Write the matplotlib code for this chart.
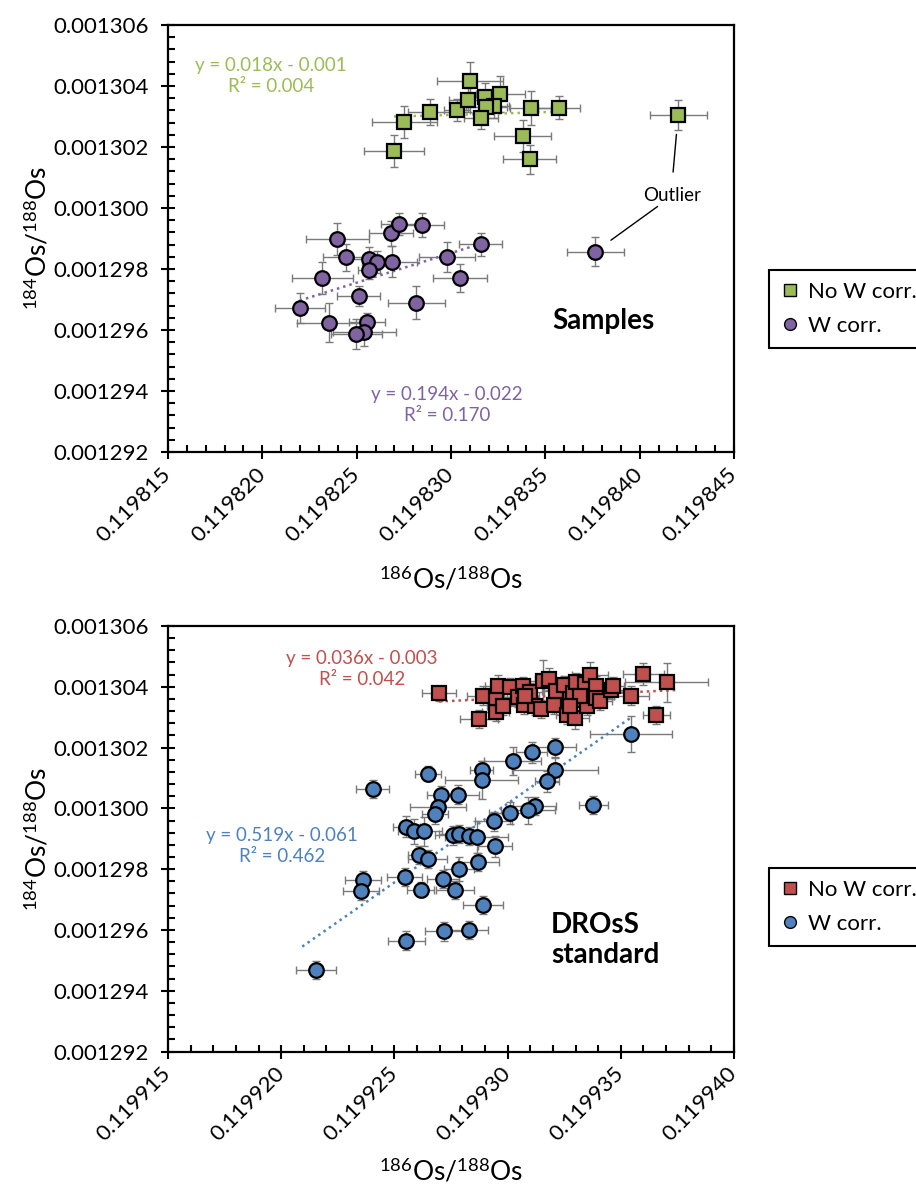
import matplotlib
matplotlib.use("Agg")
import matplotlib.pyplot as plt
from matplotlib.lines import Line2D
from matplotlib.ticker import MultipleLocator, FormatStrFormatter
import numpy as np

plt.rcParams.update(
    {
        "font.family": ["Lato", "DejaVu Sans"],
        "mathtext.fontset": "custom",
        "mathtext.rm": "Lato",
        "mathtext.it": "Lato:italic",
        "mathtext.bf": "Lato:bold",
        "axes.linewidth": 1.5,
    }
)

# ---- Samples: No W correction (last point is the outlier) ----
samp_nw_x = [0.11982698, 0.11982753, 0.11982887, 0.11983032, 0.11983100, 0.11983090,
             0.11983181, 0.11983261, 0.11983226, 0.11983187, 0.11983160, 0.11983422,
             0.11983573, 0.11983379, 0.11983418, 0.11984204]
samp_nw_y = [0.00130187, 0.00130282, 0.00130315, 0.00130321, 0.00130416, 0.00130354,
             0.00130363, 0.00130374, 0.00130334, 0.00130330, 0.00130294, 0.00130327,
             0.00130329, 0.00130236, 0.00130160, 0.00130305]
samp_nw_xerr = [1.61e-6, 1.71e-6, 1.16e-6, 0.70e-6, 1.75e-6, 1.00e-6, 1.00e-6, 1.30e-6,
                0.80e-6, 1.10e-6, 0.90e-6, 1.10e-6, 1.13e-6, 1.51e-6, 1.40e-6, 1.51e-6]
samp_nw_yerr = [0.51e-6, 0.52e-6, 0.44e-6, 0.35e-6, 0.63e-6, 0.40e-6, 0.46e-6, 0.59e-6,
                0.40e-6, 0.35e-6, 0.36e-6, 0.55e-6, 0.38e-6, 0.52e-6, 0.48e-6, 0.49e-6]

# ---- Samples: W corrected (last point is the outlier) ----
samp_w_x = [0.11982198, 0.11982318, 0.11982398, 0.11982444, 0.11982353, 0.11982512,
            0.11982568, 0.11982607, 0.11982566, 0.11982553, 0.11982541, 0.11982499,
            0.11982681, 0.11982722, 0.11982848, 0.11982685, 0.11982817, 0.11982980,
            0.11983048, 0.11983158, 0.11983764]
samp_w_y = [0.00129673, 0.00129770, 0.00129898, 0.00129838, 0.00129624, 0.00129712,
            0.00129832, 0.00129824, 0.00129797, 0.00129625, 0.00129594, 0.00129587,
            0.00129917, 0.00129948, 0.00129944, 0.00129824, 0.00129690, 0.00129840,
            0.00129770, 0.00129881, 0.00129857]
samp_w_xerr = [1.32e-6, 1.63e-6, 1.67e-6, 1.24e-6, 1.71e-6, 1.14e-6, 1.00e-6, 0.80e-6,
               0.60e-6, 0.95e-6, 1.65e-6, 1.36e-6, 1.18e-6, 0.93e-6, 1.13e-6, 1.34e-6,
               1.53e-6, 1.49e-6, 1.42e-6, 1.13e-6, 1.51e-6]
samp_w_yerr = [0.49e-6, 0.52e-6, 0.53e-6, 0.44e-6, 0.63e-6, 0.33e-6, 0.40e-6, 0.36e-6,
               0.30e-6, 0.32e-6, 0.47e-6, 0.50e-6, 0.40e-6, 0.35e-6, 0.38e-6, 0.51e-6,
               0.55e-6, 0.49e-6, 0.47e-6, 0.38e-6, 0.47e-6]

# ---- DROsS standard: No W correction ----
std_nw_x = [0.11992697, 0.11992875, 0.11992891, 0.11992947, 0.11992947, 0.11992959,
            0.11992980, 0.11993012, 0.11993045, 0.11993069, 0.11993072, 0.11993101,
            0.11993120, 0.11993146, 0.11993158, 0.11993182, 0.11993203, 0.11993214,
            0.11993250, 0.11993263, 0.11993287, 0.11993299, 0.11993300, 0.11993336,
            0.11993344, 0.11993363, 0.11993352, 0.11993392, 0.11993392, 0.11993409,
            0.11993457, 0.11993546, 0.11993599, 0.11993656, 0.11993703, 0.11993320,
            0.11993274, 0.11993077, 0.11993465]
std_nw_y = [0.00130378, 0.00130294, 0.00130371, 0.00130316, 0.00130363, 0.00130404,
            0.00130336, 0.00130398, 0.00130365, 0.00130402, 0.00130341, 0.00130382,
            0.00130336, 0.00130327, 0.00130420, 0.00130426, 0.00130339, 0.00130385,
            0.00130405, 0.00130308, 0.00130378, 0.00130297, 0.00130415, 0.00130358,
            0.00130410, 0.00130440, 0.00130336, 0.00130404, 0.00130362, 0.00130352,
            0.00130391, 0.00130371, 0.00130442, 0.00130306, 0.00130415, 0.00130369,
            0.00130338, 0.00130369, 0.00130402]
std_nw_xerr = [0.73e-6, 0.84e-6, 0.70e-6, 0.60e-6, 0.50e-6, 0.60e-6, 0.70e-6, 0.50e-6,
               0.60e-6, 0.50e-6, 0.70e-6, 0.60e-6, 0.80e-6, 0.50e-6, 0.90e-6, 0.60e-6,
               0.70e-6, 0.60e-6, 0.90e-6, 0.50e-6, 0.80e-6, 0.60e-6, 1.00e-6, 0.60e-6,
               0.70e-6, 0.80e-6, 0.50e-6, 0.60e-6, 0.70e-6, 0.50e-6, 0.60e-6, 0.78e-6,
               0.90e-6, 0.60e-6, 1.83e-6, 0.70e-6, 0.50e-6, 0.60e-6, 0.50e-6]
std_nw_yerr = [0.25e-6, 0.30e-6, 0.30e-6, 0.30e-6, 0.30e-6, 0.35e-6, 0.30e-6, 0.30e-6,
               0.30e-6, 0.30e-6, 0.30e-6, 0.30e-6, 0.30e-6, 0.30e-6, 0.69e-6, 0.35e-6,
               0.30e-6, 0.30e-6, 0.30e-6, 0.30e-6, 0.30e-6, 0.35e-6, 0.30e-6, 0.30e-6,
               0.30e-6, 0.40e-6, 0.30e-6, 0.30e-6, 0.30e-6, 0.30e-6, 0.30e-6, 0.30e-6,
               0.35e-6, 0.30e-6, 0.64e-6, 0.30e-6, 0.30e-6, 0.30e-6, 0.30e-6]

# ---- DROsS standard: W corrected ----
std_w_x = [0.11993546, 0.11993209, 0.11993106, 0.11993023, 0.11993209, 0.11992886,
           0.11992886, 0.11992648, 0.11993174, 0.11992405, 0.11992705, 0.11992782,
           0.11993379, 0.11993120, 0.11993090, 0.11993010, 0.11992938, 0.11992693,
           0.11992680, 0.11992553, 0.11992588, 0.11992629, 0.11992758, 0.11992786,
           0.11992829, 0.11992863, 0.11992944, 0.11992608, 0.11992648, 0.11992871,
           0.11992786, 0.11992545, 0.11992716, 0.11992362, 0.11992352, 0.11992617,
           0.11992766, 0.11992892, 0.11992721, 0.11992831, 0.11992553, 0.11992155]
std_w_y = [0.00130245, 0.00130201, 0.00130184, 0.00130155, 0.00130127, 0.00130127,
           0.00130094, 0.00130114, 0.00130089, 0.00130064, 0.00130043, 0.00130045,
           0.00130010, 0.00130009, 0.00129993, 0.00129985, 0.00129957, 0.00130004,
           0.00129980, 0.00129940, 0.00129924, 0.00129924, 0.00129911, 0.00129916,
           0.00129910, 0.00129905, 0.00129875, 0.00129847, 0.00129833, 0.00129823,
           0.00129800, 0.00129774, 0.00129767, 0.00129765, 0.00129728, 0.00129732,
           0.00129732, 0.00129683, 0.00129595, 0.00129600, 0.00129565, 0.00129468]
std_w_xerr = [1.81e-6, 0.91e-6, 0.70e-6, 1.26e-6, 1.91e-6, 0.50e-6, 1.62e-6, 0.57e-6,
              0.53e-6, 0.73e-6, 0.60e-6, 0.92e-6, 0.65e-6, 0.94e-6, 1.20e-6, 0.90e-6,
              0.80e-6, 1.25e-6, 0.57e-6, 0.60e-6, 0.70e-6, 0.80e-6, 0.80e-6, 0.90e-6,
              0.60e-6, 1.40e-6, 0.76e-6, 0.50e-6, 0.86e-6, 0.92e-6, 0.65e-6, 0.79e-6,
              0.70e-6, 0.81e-6, 0.78e-6, 0.60e-6, 0.84e-6, 0.87e-6, 0.84e-6, 0.81e-6,
              0.83e-6, 0.89e-6]
std_w_yerr = [0.60e-6, 0.31e-6, 0.35e-6, 0.46e-6, 0.40e-6, 0.30e-6, 0.63e-6, 0.25e-6,
              0.35e-6, 0.30e-6, 0.30e-6, 0.31e-6, 0.30e-6, 0.30e-6, 0.44e-6, 0.35e-6,
              0.30e-6, 0.30e-6, 0.30e-6, 0.35e-6, 0.40e-6, 0.49e-6, 0.30e-6, 0.30e-6,
              0.30e-6, 0.53e-6, 0.35e-6, 0.30e-6, 0.30e-6, 0.30e-6, 0.40e-6, 0.30e-6,
              0.30e-6, 0.30e-6, 0.30e-6, 0.25e-6, 0.30e-6, 0.30e-6, 0.30e-6, 0.30e-6,
              0.30e-6, 0.30e-6]

# linear trend lines: slope, R^2 and x extent of each fit
fit_slopes = {"samp_nw": 0.018, "samp_w": 0.194, "std_nw": 0.036, "std_w": 0.519}
fit_labels = {
    "samp_nw": "y = 0.018x - 0.001\nR² = 0.004",
    "samp_w": "y = 0.194x - 0.022\nR² = 0.170",
    "std_nw": "y = 0.036x - 0.003\nR² = 0.042",
    "std_w": "y = 0.519x - 0.061\nR² = 0.462",
}
fit_xrange = {
    "samp_nw": (0.11982698, 0.11983573),
    "samp_w": (0.11982198, 0.11983158),
    "std_nw": (0.11992697, 0.11993748),
    "std_w": (0.11992093, 0.11993546),
}

GREEN = "#9BBB59"
PURPLE = "#8064A2"
RED = "#C0504D"
BLUE = "#4F81BD"
ERR = "#7a7a7a"

TICK_FS = 16
LABEL_FS = 19
EQ_FS = 13.5


def draw_series(ax, x, y, xerr, yerr, color, marker):
    ax.errorbar(x, y, xerr=xerr, yerr=yerr, fmt="none", ecolor=ERR,
                elinewidth=1.0, capsize=3, capthick=1.0, zorder=2)
    ax.plot(x, y, linestyle="none", marker=marker, markersize=10.5,
            markerfacecolor=color, markeredgecolor="black",
            markeredgewidth=1.6, zorder=4)


def draw_trend(ax, x, y, key, color, n_fit=None):
    # trend passes through the centroid of the fitted points
    xs = np.asarray(x[:n_fit])
    ys = np.asarray(y[:n_fit])
    x0, x1 = fit_xrange[key]
    xx = np.array([x0, x1])
    yy = ys.mean() + fit_slopes[key] * (xx - xs.mean())
    ax.plot(xx, yy, color=color, linestyle=(0, (1, 1.6)), linewidth=1.8, zorder=3)


def style_axes(ax, xlim, xmajor):
    ax.set_xlim(*xlim)
    ax.set_ylim(0.001292, 0.001306)
    ax.xaxis.set_major_locator(MultipleLocator(xmajor))
    ax.xaxis.set_minor_locator(MultipleLocator(xmajor / 5))
    ax.yaxis.set_major_locator(MultipleLocator(0.000002))
    ax.yaxis.set_minor_locator(MultipleLocator(0.0000004))
    ax.xaxis.set_major_formatter(FormatStrFormatter("%.6f"))
    ax.yaxis.set_major_formatter(FormatStrFormatter("%.6f"))
    ax.tick_params(which="major", direction="inout", length=9.5, width=1.5,
                   labelsize=TICK_FS, pad=9)
    ax.tick_params(which="minor", direction="in", length=4.8, width=1.5)
    for lab in ax.get_xticklabels():
        lab.set_rotation(45)
        lab.set_ha("right")
        lab.set_va("center")
        lab.set_rotation_mode("anchor")
    for sp in ax.spines.values():
        sp.set_linewidth(1.6)
    ax.set_xlabel(r"$^{186}$Os/$^{188}$Os", fontsize=LABEL_FS)
    ax.set_ylabel(r"$^{184}$Os/$^{188}$Os", fontsize=LABEL_FS)
    ax.yaxis.set_label_coords(-0.205, 0.5)


fig = plt.figure(figsize=(9.16, 11.94), dpi=100)
ax1 = fig.add_axes([168 / 916, 1 - 452 / 1194, 566 / 916, 427 / 1194])
ax2 = fig.add_axes([168 / 916, 1 - 1051.5 / 1194, 566 / 916, 425.5 / 1194])

# ---- top panel: samples ----
draw_series(ax1, samp_nw_x, samp_nw_y, samp_nw_xerr, samp_nw_yerr, GREEN, "s")
draw_series(ax1, samp_w_x, samp_w_y, samp_w_xerr, samp_w_yerr, PURPLE, "o")
draw_trend(ax1, samp_nw_x, samp_nw_y, "samp_nw", GREEN, n_fit=-1)
draw_trend(ax1, samp_w_x, samp_w_y, "samp_w", PURPLE, n_fit=-1)
style_axes(ax1, (0.119815, 0.119845), 0.000005)
ax1.xaxis.set_label_coords(0.5, -0.265)

ax1.text(0.182, 0.88, fit_labels["samp_nw"], transform=ax1.transAxes, color=GREEN,
         fontsize=EQ_FS, ha="center", va="center", multialignment="center", linespacing=1.25)
ax1.text(0.493, 0.11, fit_labels["samp_w"], transform=ax1.transAxes, color=PURPLE,
         fontsize=EQ_FS, ha="center", va="center", multialignment="center", linespacing=1.25)
ax1.text(0.77, 0.307, "Samples", transform=ax1.transAxes, fontsize=20,
         fontweight="bold", ha="center", va="center")

# outlier callout
ax1.annotate("Outlier", xy=(samp_nw_x[-1], samp_nw_y[-1]), xytext=(0.89, 0.6),
             textcoords="axes fraction", fontsize=13.5, ha="center", va="center",
             arrowprops=dict(arrowstyle="-", color="black", lw=1.0,
                             shrinkA=9, shrinkB=14, relpos=(0.5, 1.0)))
ax1.annotate("", xy=(samp_w_x[-1], samp_w_y[-1]), xytext=(0.865, 0.575),
             textcoords="axes fraction",
             arrowprops=dict(arrowstyle="-", color="black", lw=1.0,
                             shrinkA=0, shrinkB=14))

# ---- bottom panel: DROsS standard ----
draw_series(ax2, std_nw_x, std_nw_y, std_nw_xerr, std_nw_yerr, RED, "s")
draw_series(ax2, std_w_x, std_w_y, std_w_xerr, std_w_yerr, BLUE, "o")
draw_trend(ax2, std_nw_x, std_nw_y, "std_nw", RED)
draw_trend(ax2, std_w_x, std_w_y, "std_w", BLUE)
style_axes(ax2, (0.119915, 0.119940), 0.000005)
ax2.xaxis.set_label_coords(0.5, -0.25)

ax2.text(0.343, 0.899, fit_labels["std_nw"], transform=ax2.transAxes, color=RED,
         fontsize=EQ_FS, ha="center", va="center", multialignment="center", linespacing=1.25)
ax2.text(0.201, 0.483, fit_labels["std_w"], transform=ax2.transAxes, color=BLUE,
         fontsize=EQ_FS, ha="center", va="center", multialignment="center", linespacing=1.25)
ax2.text(0.677, 0.262, "DROsS\nstandard", transform=ax2.transAxes, fontsize=20,
         fontweight="bold", ha="left", va="center", linespacing=1.2)


def add_legend(face_sq, face_ci, top_px):
    handles = [
        Line2D([], [], linestyle="none", marker="s", markersize=8.5,
               markerfacecolor=face_sq, markeredgecolor="black", markeredgewidth=1.0),
        Line2D([], [], linestyle="none", marker="o", markersize=8.5,
               markerfacecolor=face_ci, markeredgecolor="black", markeredgewidth=1.0),
    ]
    leg = fig.legend(handles, ["No W corr.", "W corr."], loc="upper left",
                     bbox_to_anchor=(769 / 916, 1 - top_px / 1194),
                     bbox_transform=fig.transFigure, fontsize=16, frameon=True,
                     fancybox=False, edgecolor="black", framealpha=1,
                     borderpad=0.55, labelspacing=0.6, handlelength=0.8,
                     handletextpad=0.4, borderaxespad=0)
    leg.get_frame().set_linewidth(1.5)
    return leg


add_legend(GREEN, PURPLE, 270)
add_legend(RED, BLUE, 868)

fig.savefig("out.png", dpi=100)
